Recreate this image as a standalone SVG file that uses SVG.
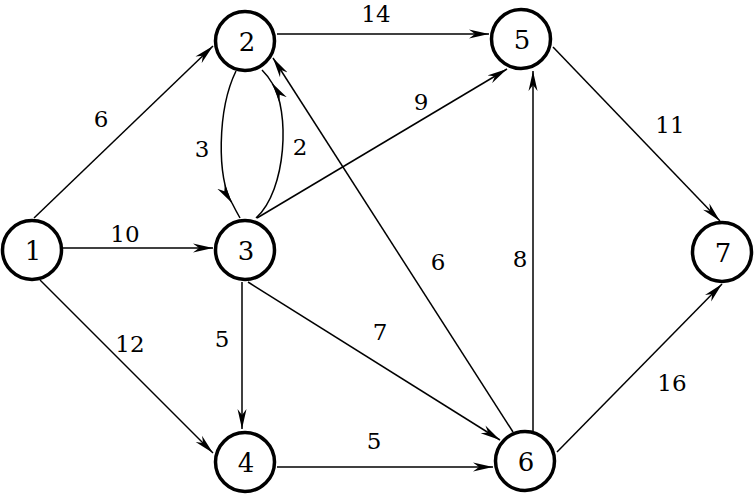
<svg xmlns="http://www.w3.org/2000/svg" width="755" height="495" viewBox="0 0 755 495">
<style>
.node circle{fill:#fff;stroke:#000;stroke-width:3.5}
.node text{font-size:26px;text-anchor:middle;fill:#000}
.edge{fill:none;stroke:#000;stroke-width:1.5}
.lbl{font-size:23px;text-anchor:middle;fill:#000}
</style>
<defs>
<marker id="arr" markerUnits="userSpaceOnUse" markerWidth="22" markerHeight="10" refX="20" refY="4.5" orient="auto" viewBox="0 0 22 9">
<path d="M0,0 L20,4.5 L0,9 L6,4.5 Z" fill="#000"/>
</marker>
</defs>
<rect width="755" height="495" fill="#fff"/>
<g id="connectors">
<line class="edge" x1="34" y1="218" x2="213" y2="46" marker-end="url(#arr)"/>
<line class="edge" x1="63" y1="248" x2="213" y2="248" marker-end="url(#arr)"/>
<line class="edge" x1="40" y1="280" x2="213" y2="453" marker-end="url(#arr)"/>
<line class="edge" x1="277" y1="34" x2="489" y2="34" marker-end="url(#arr)"/>
<path class="edge" d="M236,71 C217,110 217,180 232,203" marker-end="url(#arr)"/>
<path class="edge" d="M232,203 Q236,211 240,218"/>
<path class="edge" d="M256,218 C287,190 290,110 272,83" marker-end="url(#arr)"/>
<path class="edge" d="M272,83 Q268,76 262,70"/>
<line class="edge" x1="257" y1="218" x2="507" y2="69" marker-end="url(#arr)"/>
<line class="edge" x1="242" y1="282" x2="242" y2="429" marker-end="url(#arr)"/>
<line class="edge" x1="248" y1="282" x2="500" y2="440" marker-end="url(#arr)"/>
<line class="edge" x1="513" y1="432" x2="273" y2="58" marker-end="url(#arr)"/>
<line class="edge" x1="533" y1="431" x2="533" y2="71" marker-end="url(#arr)"/>
<line class="edge" x1="277" y1="467" x2="493" y2="467" marker-end="url(#arr)"/>
<line class="edge" x1="553" y1="47" x2="720" y2="221" marker-end="url(#arr)"/>
<line class="edge" x1="557" y1="452" x2="722" y2="284" marker-end="url(#arr)"/>
</g>
<g id="labels" font-family="DejaVu Serif, serif">
<text class="lbl" x="101" y="127">6</text>
<text class="lbl" x="376" y="22">14</text>
<text class="lbl" x="421" y="110">9</text>
<text class="lbl" x="202" y="157">3</text>
<text class="lbl" x="300" y="155">2</text>
<text class="lbl" x="670" y="133">11</text>
<text class="lbl" x="125" y="242">10</text>
<text class="lbl" x="438" y="270">6</text>
<text class="lbl" x="520" y="267">8</text>
<text class="lbl" x="130" y="352">12</text>
<text class="lbl" x="222" y="347">5</text>
<text class="lbl" x="380" y="340">7</text>
<text class="lbl" x="672" y="391">16</text>
<text class="lbl" x="374" y="449">5</text>
</g>
<g font-family="DejaVu Serif, serif">
<g id="node1" class="node"><circle cx="32" cy="250" r="29.5"/><text x="33" y="260">1</text></g>
<g id="node2" class="node"><circle cx="245" cy="41" r="29.5"/><text x="247" y="51">2</text></g>
<g id="node3" class="node"><circle cx="245" cy="250" r="29.5"/><text x="246" y="260">3</text></g>
<g id="node4" class="node"><circle cx="245" cy="462" r="29.5"/><text x="246" y="472">4</text></g>
<g id="node5" class="node"><circle cx="521" cy="39" r="29.5"/><text x="522" y="49">5</text></g>
<g id="node6" class="node"><circle cx="525" cy="461" r="29.5"/><text x="526" y="471">6</text></g>
<g id="node7" class="node"><circle cx="722" cy="252" r="29.5"/><text x="723" y="262">7</text></g>
</g>
</svg>
